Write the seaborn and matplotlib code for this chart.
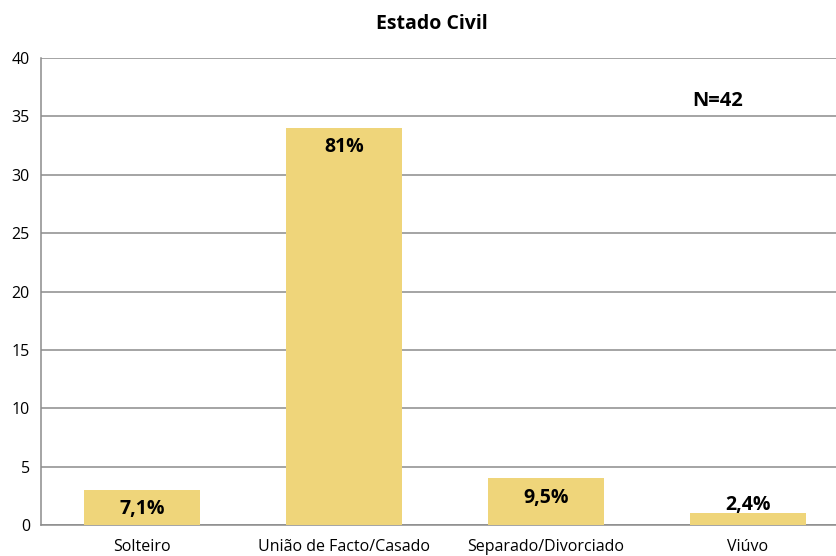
import matplotlib
matplotlib.use("Agg")
import matplotlib.pyplot as plt
import seaborn as sns
import pandas as pd

# Estado civil da amostra (N=42)
categorias = ['Solteiro', 'União de Facto/Casado', 'Separado/Divorciado', 'Viúvo']
contagens = [3, 34, 4, 1]
percentagens = ['7,1%', '81%', '9,5%', '2,4%']
n_total = 42

df = pd.DataFrame({'cat': categorias, 'n': contagens})

sns.set_theme(style='white')
plt.rcParams['font.family'] = ['Open Sans', 'DejaVu Sans']

fig = plt.figure(figsize=(8.36, 5.56), dpi=100)
ax = fig.add_axes([41 / 836, 31 / 556, 808 / 836, 467 / 556])

sns.barplot(data=df, x='cat', y='n', color='#EFD57A', saturation=1,
            width=0.57, linewidth=0, ax=ax, zorder=3)

ax.set_ylim(0, 40)
ax.set_yticks(range(0, 41, 5))
ax.yaxis.grid(True, color='#8c8c8c', linewidth=1.1, zorder=0)
ax.set_axisbelow(True)
ax.set_xlabel('')
ax.set_ylabel('')
ax.tick_params(axis='both', length=0, labelsize=11.5, colors='black')
ax.tick_params(axis='x', pad=10)
ax.tick_params(axis='y', pad=8)

for s in ['top', 'right']:
    ax.spines[s].set_visible(False)
for s in ['left', 'bottom']:
    ax.spines[s].set_color('#8c8c8c')
    ax.spines[s].set_linewidth(1.1)

# rótulos de percentagem
for i, (v, p) in enumerate(zip(contagens, percentagens)):
    off = -14 if v >= 2 else 6
    ax.annotate(p, (i, v), xytext=(0, off), textcoords='offset points',
                ha='center', va='center', fontsize=14, fontweight='bold',
                color='black')

ax.text(2.85, 36.3, 'N=%d' % n_total, ha='center', va='center',
        fontsize=14.5, fontweight='bold', color='black')

fig.text(432 / 836, 1 - 24 / 556, 'Estado Civil', ha='center', va='center',
         fontsize=14, fontweight='bold', color='black')

fig.savefig('out.png', dpi=100)
